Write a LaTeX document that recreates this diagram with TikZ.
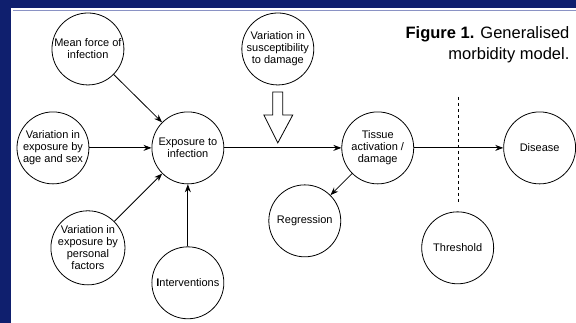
\documentclass[tikz,border=0pt]{standalone}
\usepackage{xcolor}
\usepackage{fontspec}
\setmainfont{Liberation Sans}
\usetikzlibrary{arrows.meta}

\definecolor{slidenavy}{HTML}{0F1F6E}
\definecolor{slideline}{HTML}{8A92C4}

\begin{document}
\begin{tikzpicture}[x=1pt, y=-1pt,
  factor/.style={draw, circle, line width=0.8pt, minimum size=72pt, inner sep=0pt,
    align=center, font=\fontsize{11}{12}\selectfont},
  arr/.style={-{Stealth[length=8pt,width=6pt]}, line width=0.8pt}]
% slide frame
\fill[slidenavy] (0,0) rectangle (576,323);
\fill[white] (11,8.5) rectangle (576,323);
\draw[slideline, line width=0.8pt] (13,10.5) -- (576,10.5);
\useasboundingbox (0,0) rectangle (576,323);

\node[factor] (force) at (88,49) {Mean force of\\infection};
\node[factor] (agesex) at (53,148) {Variation in\\exposure by\\age and sex};
\node[factor] (exposure) at (188,148) {Exposure to\\infection};
\node[factor] (personal) at (88,248) {Variation in\\exposure by\\personal\\factors};
\node[factor] (interv) at (188,283) {\textbf{I}nterventions};
\node[factor] (suscept) at (278,49) {Variation in\\susceptibility\\to damage};
\node[factor] (tissue) at (378,148) {Tissue\\activation /\\damage};
\node[factor] (regress) at (305,221) {Regression};
\node[factor] (disease) at (540,148) {Disease};
\node[factor] (thresh) at (458,248) {Threshold};

\node[anchor=north east, inner sep=0pt, align=right, font=\fontsize{16.5}{21}\selectfont]
  (title) at (570,26) {\textbf{Figure 1.} Generalised\\morbidity model.};

\draw[arr] (force) -- (exposure);
\draw[arr] (agesex) -- (exposure);
\draw[arr] (personal) -- (exposure);
\draw[arr] (interv) -- (exposure);
\draw[arr] (exposure) -- (tissue);
\draw[arr] (tissue) -- (regress);
\draw[arr] (tissue) -- (disease);

% threshold line
\coordinate (cuttop) at (459,97);
\coordinate (cutbot) at (459,203);
\draw[dashed, line width=0.8pt] (cuttop) -- (cutbot);

% hollow arrow for susceptibility
\draw[line width=0.8pt, fill=white] (273,92) -- (283,92) -- (283,115) -- (293,115)
  -- (278,143) -- (264,115) -- (273,115) -- cycle;
\end{tikzpicture}
\end{document}
